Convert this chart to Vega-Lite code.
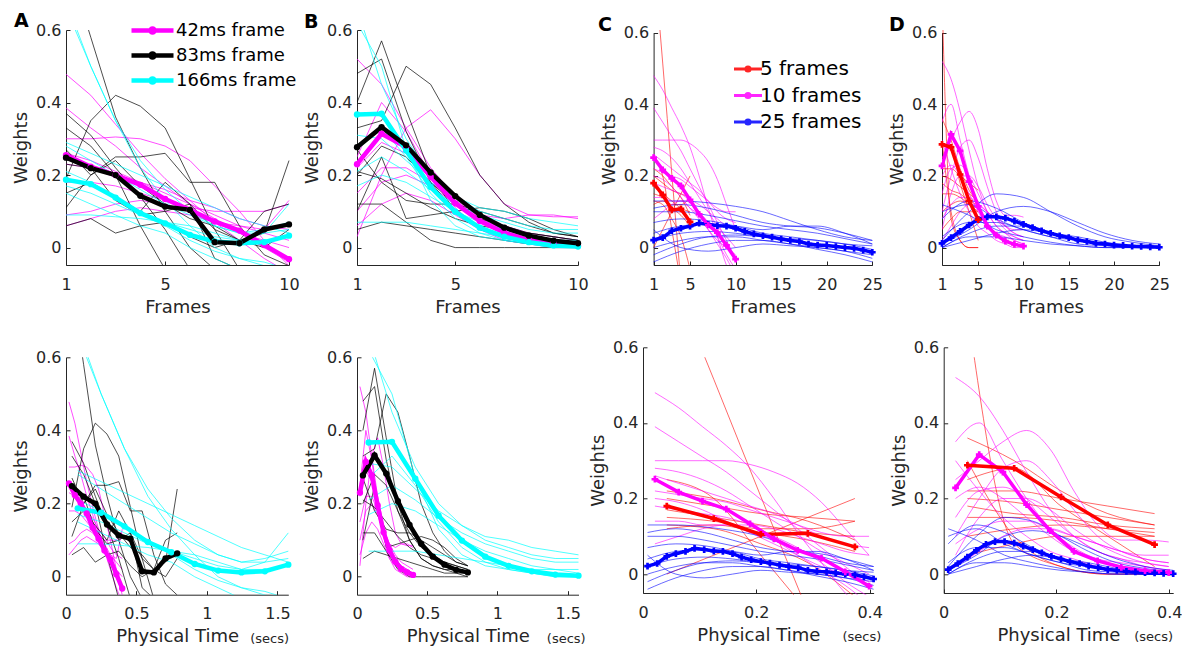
{
"$schema":"https://vega.github.io/schema/vega-lite/v6.json",
"background":"white",
"padding":{"left":12,"top":12,"right":0,"bottom":0},
"config":{
 "font":"DejaVu Sans",
 "view":{"stroke":null},
 "axis":{"domainColor":"#262626","domainWidth":1,"tickColor":"#262626","tickWidth":1,"tickSize":-4,"labelColor":"#262626","labelFont":"DejaVu Sans","labelFontSize":16,"titleFont":"DejaVu Sans","titleFontSize":18,"titleFontWeight":"normal","titleColor":"#262626","grid":false,"labelFlush":false,"labelOverlap":false},
 "axisX":{"labelPadding":15,"titlePadding":6},
 "axisY":{"labelPadding":9,"titlePadding":5},
 "title":{"font":"DejaVu Sans","fontWeight":"bold","fontSize":19,"color":"#000000","anchor":"start","frame":"group"}
},
"datasets":{
"A":[
{"g":"m","s":0,"f":1,"t":0.021,"w":0.255},{"g":"m","s":0,"f":2,"t":0.063,"w":0.223},{"g":"m","s":0,"f":3,"t":0.105,"w":0.2},{"g":"m","s":0,"f":4,"t":0.147,"w":0.173},{"g":"m","s":0,"f":5,"t":0.189,"w":0.134},{"g":"m","s":0,"f":6,"t":0.231,"w":0.104},{"g":"m","s":0,"f":7,"t":0.273,"w":0.072},{"g":"m","s":0,"f":8,"t":0.315,"w":0.047},{"g":"m","s":0,"f":9,"t":0.357,"w":0.007},{"g":"m","s":0,"f":10,"t":0.399,"w":-0.032},
{"g":"c","s":0,"f":1,"t":0.083,"w":0.187},{"g":"c","s":0,"f":2,"t":0.249,"w":0.175},{"g":"c","s":0,"f":3,"t":0.415,"w":0.138},{"g":"c","s":0,"f":4,"t":0.581,"w":0.095},{"g":"c","s":0,"f":5,"t":0.747,"w":0.067},{"g":"c","s":0,"f":6,"t":0.913,"w":0.035},{"g":"c","s":0,"f":7,"t":1.079,"w":0.017},{"g":"c","s":0,"f":8,"t":1.245,"w":0.012},{"g":"c","s":0,"f":9,"t":1.411,"w":0.015},{"g":"c","s":0,"f":10,"t":1.577,"w":0.033},
{"g":"k","s":0,"f":1,"t":0.042,"w":0.248},{"g":"k","s":0,"f":2,"t":0.125,"w":0.219},{"g":"k","s":0,"f":3,"t":0.208,"w":0.2},{"g":"k","s":0,"f":4,"t":0.291,"w":0.143},{"g":"k","s":0,"f":5,"t":0.374,"w":0.113},{"g":"k","s":0,"f":6,"t":0.457,"w":0.104},{"g":"k","s":0,"f":7,"t":0.54,"w":0.015},{"g":"k","s":0,"f":8,"t":0.623,"w":0.012},{"g":"k","s":0,"f":9,"t":0.706,"w":0.05},{"g":"k","s":0,"f":10,"t":0.789,"w":0.064},
{"g":"m","s":1,"f":1,"t":0.021,"w":0.478},{"g":"m","s":1,"f":2,"t":0.063,"w":0.42},{"g":"m","s":1,"f":3,"t":0.105,"w":0.34},{"g":"m","s":1,"f":4,"t":0.147,"w":0.26},{"g":"m","s":1,"f":5,"t":0.189,"w":0.19},{"g":"m","s":1,"f":6,"t":0.231,"w":0.13},{"g":"m","s":1,"f":7,"t":0.273,"w":0.07},{"g":"m","s":1,"f":8,"t":0.315,"w":0.02},{"g":"m","s":1,"f":9,"t":0.357,"w":-0.03},{"g":"m","s":1,"f":10,"t":0.399,"w":-0.07},
{"g":"m","s":2,"f":1,"t":0.021,"w":0.385},{"g":"m","s":2,"f":2,"t":0.063,"w":0.33},{"g":"m","s":2,"f":3,"t":0.105,"w":0.28},{"g":"m","s":2,"f":4,"t":0.147,"w":0.22},{"g":"m","s":2,"f":5,"t":0.189,"w":0.17},{"g":"m","s":2,"f":6,"t":0.231,"w":0.12},{"g":"m","s":2,"f":7,"t":0.273,"w":0.08},{"g":"m","s":2,"f":8,"t":0.315,"w":0.04},{"g":"m","s":2,"f":9,"t":0.357,"w":0.0},{"g":"m","s":2,"f":10,"t":0.399,"w":-0.04},
{"g":"m","s":3,"f":1,"t":0.021,"w":0.3},{"g":"m","s":3,"f":2,"t":0.063,"w":0.3},{"g":"m","s":3,"f":3,"t":0.105,"w":0.305},{"g":"m","s":3,"f":4,"t":0.147,"w":0.3},{"g":"m","s":3,"f":5,"t":0.189,"w":0.28},{"g":"m","s":3,"f":6,"t":0.231,"w":0.24},{"g":"m","s":3,"f":7,"t":0.273,"w":0.17},{"g":"m","s":3,"f":8,"t":0.315,"w":0.1},{"g":"m","s":3,"f":9,"t":0.357,"w":0.02},{"g":"m","s":3,"f":10,"t":0.399,"w":-0.05},
{"g":"m","s":4,"f":1,"t":0.021,"w":0.26},{"g":"m","s":4,"f":2,"t":0.063,"w":0.24},{"g":"m","s":4,"f":3,"t":0.105,"w":0.21},{"g":"m","s":4,"f":4,"t":0.147,"w":0.18},{"g":"m","s":4,"f":5,"t":0.189,"w":0.15},{"g":"m","s":4,"f":6,"t":0.231,"w":0.12},{"g":"m","s":4,"f":7,"t":0.273,"w":0.09},{"g":"m","s":4,"f":8,"t":0.315,"w":0.06},{"g":"m","s":4,"f":9,"t":0.357,"w":0.04},{"g":"m","s":4,"f":10,"t":0.399,"w":0.02},
{"g":"m","s":5,"f":1,"t":0.021,"w":0.23},{"g":"m","s":5,"f":2,"t":0.063,"w":0.22},{"g":"m","s":5,"f":3,"t":0.105,"w":0.2},{"g":"m","s":5,"f":4,"t":0.147,"w":0.18},{"g":"m","s":5,"f":5,"t":0.189,"w":0.16},{"g":"m","s":5,"f":6,"t":0.231,"w":0.13},{"g":"m","s":5,"f":7,"t":0.273,"w":0.11},{"g":"m","s":5,"f":8,"t":0.315,"w":0.08},{"g":"m","s":5,"f":9,"t":0.357,"w":0.06},{"g":"m","s":5,"f":10,"t":0.399,"w":0.05},
{"g":"m","s":6,"f":1,"t":0.021,"w":0.18},{"g":"m","s":6,"f":2,"t":0.063,"w":0.18},{"g":"m","s":6,"f":3,"t":0.105,"w":0.17},{"g":"m","s":6,"f":4,"t":0.147,"w":0.15},{"g":"m","s":6,"f":5,"t":0.189,"w":0.13},{"g":"m","s":6,"f":6,"t":0.231,"w":0.11},{"g":"m","s":6,"f":7,"t":0.273,"w":0.1},{"g":"m","s":6,"f":8,"t":0.315,"w":0.1},{"g":"m","s":6,"f":9,"t":0.357,"w":0.1},{"g":"m","s":6,"f":10,"t":0.399,"w":0.12},
{"g":"m","s":7,"f":1,"t":0.021,"w":0.09},{"g":"m","s":7,"f":2,"t":0.063,"w":0.1},{"g":"m","s":7,"f":3,"t":0.105,"w":0.12},{"g":"m","s":7,"f":4,"t":0.147,"w":0.13},{"g":"m","s":7,"f":5,"t":0.189,"w":0.12},{"g":"m","s":7,"f":6,"t":0.231,"w":0.1},{"g":"m","s":7,"f":7,"t":0.273,"w":0.07},{"g":"m","s":7,"f":8,"t":0.315,"w":0.04},{"g":"m","s":7,"f":9,"t":0.357,"w":0.02},{"g":"m","s":7,"f":10,"t":0.399,"w":0.0},
{"g":"m","s":8,"f":1,"t":0.021,"w":0.06},{"g":"m","s":8,"f":2,"t":0.063,"w":0.08},{"g":"m","s":8,"f":3,"t":0.105,"w":0.1},{"g":"m","s":8,"f":4,"t":0.147,"w":0.11},{"g":"m","s":8,"f":5,"t":0.189,"w":0.1},{"g":"m","s":8,"f":6,"t":0.231,"w":0.09},{"g":"m","s":8,"f":7,"t":0.273,"w":0.07},{"g":"m","s":8,"f":8,"t":0.315,"w":0.06},{"g":"m","s":8,"f":9,"t":0.357,"w":0.05},{"g":"m","s":8,"f":10,"t":0.399,"w":0.13},
{"g":"k","s":11,"f":1,"t":0.042,"w":0.8},{"g":"k","s":11,"f":2,"t":0.125,"w":0.58},{"g":"k","s":11,"f":3,"t":0.208,"w":0.36},{"g":"k","s":11,"f":4,"t":0.291,"w":0.22},{"g":"k","s":11,"f":5,"t":0.374,"w":0.1},{"g":"k","s":11,"f":6,"t":0.457,"w":0.0},{"g":"k","s":11,"f":7,"t":0.54,"w":-0.06},
{"g":"k","s":12,"f":1,"t":0.042,"w":0.37},{"g":"k","s":12,"f":2,"t":0.125,"w":0.31},{"g":"k","s":12,"f":3,"t":0.208,"w":0.22},{"g":"k","s":12,"f":4,"t":0.291,"w":0.14},{"g":"k","s":12,"f":5,"t":0.374,"w":0.05},{"g":"k","s":12,"f":6,"t":0.457,"w":-0.06},
{"g":"k","s":13,"f":1,"t":0.042,"w":0.19},{"g":"k","s":13,"f":2,"t":0.125,"w":0.35},{"g":"k","s":13,"f":3,"t":0.208,"w":0.42},{"g":"k","s":13,"f":4,"t":0.291,"w":0.39},{"g":"k","s":13,"f":5,"t":0.374,"w":0.33},{"g":"k","s":13,"f":6,"t":0.457,"w":0.19},{"g":"k","s":13,"f":7,"t":0.54,"w":0.05},{"g":"k","s":13,"f":8,"t":0.623,"w":-0.06},
{"g":"k","s":14,"f":1,"t":0.042,"w":0.11},{"g":"k","s":14,"f":2,"t":0.125,"w":0.2},{"g":"k","s":14,"f":3,"t":0.208,"w":0.25},{"g":"k","s":14,"f":4,"t":0.291,"w":0.25},{"g":"k","s":14,"f":5,"t":0.374,"w":0.26},{"g":"k","s":14,"f":6,"t":0.457,"w":0.18},{"g":"k","s":14,"f":7,"t":0.54,"w":0.18},{"g":"k","s":14,"f":8,"t":0.623,"w":0.06},{"g":"k","s":14,"f":9,"t":0.706,"w":-0.02},{"g":"k","s":14,"f":10,"t":0.789,"w":-0.05},
{"g":"k","s":15,"f":1,"t":0.042,"w":0.27},{"g":"k","s":15,"f":2,"t":0.125,"w":0.2},{"g":"k","s":15,"f":3,"t":0.208,"w":0.24},{"g":"k","s":15,"f":4,"t":0.291,"w":0.17},{"g":"k","s":15,"f":5,"t":0.374,"w":0.12},{"g":"k","s":15,"f":6,"t":0.457,"w":0.08},{"g":"k","s":15,"f":7,"t":0.54,"w":0.06},{"g":"k","s":15,"f":8,"t":0.623,"w":0.02},{"g":"k","s":15,"f":9,"t":0.706,"w":0.04},{"g":"k","s":15,"f":10,"t":0.789,"w":0.24},
{"g":"k","s":16,"f":1,"t":0.042,"w":0.06},{"g":"k","s":16,"f":2,"t":0.125,"w":0.08},{"g":"k","s":16,"f":3,"t":0.208,"w":0.04},{"g":"k","s":16,"f":4,"t":0.291,"w":0.06},{"g":"k","s":16,"f":5,"t":0.374,"w":0.07},{"g":"k","s":16,"f":6,"t":0.457,"w":0.03},{"g":"k","s":16,"f":7,"t":0.54,"w":0.0},{"g":"k","s":16,"f":8,"t":0.623,"w":0.02},{"g":"k","s":16,"f":9,"t":0.706,"w":0.1},{"g":"k","s":16,"f":10,"t":0.789,"w":0.12},
{"g":"k","s":17,"f":1,"t":0.042,"w":0.33},{"g":"k","s":17,"f":2,"t":0.125,"w":0.28},{"g":"k","s":17,"f":3,"t":0.208,"w":0.2},{"g":"k","s":17,"f":4,"t":0.291,"w":0.06},{"g":"k","s":17,"f":5,"t":0.374,"w":-0.06},
{"g":"k","s":18,"f":1,"t":0.042,"w":0.23},{"g":"k","s":18,"f":2,"t":0.125,"w":0.22},{"g":"k","s":18,"f":3,"t":0.208,"w":0.13},{"g":"k","s":18,"f":4,"t":0.291,"w":0.09},{"g":"k","s":18,"f":5,"t":0.374,"w":0.1},{"g":"k","s":18,"f":6,"t":0.457,"w":0.12},{"g":"k","s":18,"f":7,"t":0.54,"w":-0.03},{"g":"k","s":18,"f":8,"t":0.623,"w":-0.06},
{"g":"k","s":19,"f":1,"t":0.042,"w":0.15},{"g":"k","s":19,"f":2,"t":0.125,"w":0.18},{"g":"k","s":19,"f":3,"t":0.208,"w":0.14},{"g":"k","s":19,"f":4,"t":0.291,"w":0.1},{"g":"k","s":19,"f":5,"t":0.374,"w":0.18},{"g":"k","s":19,"f":6,"t":0.457,"w":0.12},{"g":"k","s":19,"f":7,"t":0.54,"w":0.05},{"g":"k","s":19,"f":8,"t":0.623,"w":0.02},{"g":"k","s":19,"f":9,"t":0.706,"w":0.0},{"g":"k","s":19,"f":10,"t":0.789,"w":0.05},
{"g":"c","s":21,"f":1,"t":0.083,"w":0.68},{"g":"c","s":21,"f":2,"t":0.249,"w":0.5},{"g":"c","s":21,"f":3,"t":0.415,"w":0.35},{"g":"c","s":21,"f":4,"t":0.581,"w":0.22},{"g":"c","s":21,"f":5,"t":0.747,"w":0.13},{"g":"c","s":21,"f":6,"t":0.913,"w":0.06},{"g":"c","s":21,"f":7,"t":1.079,"w":0.0},{"g":"c","s":21,"f":8,"t":1.245,"w":-0.03},{"g":"c","s":21,"f":9,"t":1.411,"w":-0.05},{"g":"c","s":21,"f":10,"t":1.577,"w":-0.06},
{"g":"c","s":22,"f":1,"t":0.083,"w":0.66},{"g":"c","s":22,"f":2,"t":0.249,"w":0.5},{"g":"c","s":22,"f":3,"t":0.415,"w":0.35},{"g":"c","s":22,"f":4,"t":0.581,"w":0.24},{"g":"c","s":22,"f":5,"t":0.747,"w":0.16},{"g":"c","s":22,"f":6,"t":0.913,"w":0.1},{"g":"c","s":22,"f":7,"t":1.079,"w":0.06},{"g":"c","s":22,"f":8,"t":1.245,"w":0.04},{"g":"c","s":22,"f":9,"t":1.411,"w":0.04},{"g":"c","s":22,"f":10,"t":1.577,"w":0.05},
{"g":"c","s":23,"f":1,"t":0.083,"w":0.29},{"g":"c","s":23,"f":2,"t":0.249,"w":0.26},{"g":"c","s":23,"f":3,"t":0.415,"w":0.23},{"g":"c","s":23,"f":4,"t":0.581,"w":0.2},{"g":"c","s":23,"f":5,"t":0.747,"w":0.17},{"g":"c","s":23,"f":6,"t":0.913,"w":0.14},{"g":"c","s":23,"f":7,"t":1.079,"w":0.11},{"g":"c","s":23,"f":8,"t":1.245,"w":0.08},{"g":"c","s":23,"f":9,"t":1.411,"w":0.06},{"g":"c","s":23,"f":10,"t":1.577,"w":0.04},
{"g":"c","s":24,"f":1,"t":0.083,"w":0.28},{"g":"c","s":24,"f":2,"t":0.249,"w":0.24},{"g":"c","s":24,"f":3,"t":0.415,"w":0.2},{"g":"c","s":24,"f":4,"t":0.581,"w":0.16},{"g":"c","s":24,"f":5,"t":0.747,"w":0.12},{"g":"c","s":24,"f":6,"t":0.913,"w":0.09},{"g":"c","s":24,"f":7,"t":1.079,"w":0.06},{"g":"c","s":24,"f":8,"t":1.245,"w":0.04},{"g":"c","s":24,"f":9,"t":1.411,"w":0.05},{"g":"c","s":24,"f":10,"t":1.577,"w":0.07},
{"g":"c","s":25,"f":1,"t":0.083,"w":0.21},{"g":"c","s":25,"f":2,"t":0.249,"w":0.18},{"g":"c","s":25,"f":3,"t":0.415,"w":0.14},{"g":"c","s":25,"f":4,"t":0.581,"w":0.1},{"g":"c","s":25,"f":5,"t":0.747,"w":0.06},{"g":"c","s":25,"f":6,"t":0.913,"w":0.02},{"g":"c","s":25,"f":7,"t":1.079,"w":-0.01},{"g":"c","s":25,"f":8,"t":1.245,"w":-0.03},{"g":"c","s":25,"f":9,"t":1.411,"w":-0.04},{"g":"c","s":25,"f":10,"t":1.577,"w":-0.06},
{"g":"c","s":26,"f":1,"t":0.083,"w":0.17},{"g":"c","s":26,"f":2,"t":0.249,"w":0.15},{"g":"c","s":26,"f":3,"t":0.415,"w":0.12},{"g":"c","s":26,"f":4,"t":0.581,"w":0.09},{"g":"c","s":26,"f":5,"t":0.747,"w":0.07},{"g":"c","s":26,"f":6,"t":0.913,"w":0.05},{"g":"c","s":26,"f":7,"t":1.079,"w":0.03},{"g":"c","s":26,"f":8,"t":1.245,"w":0.02},{"g":"c","s":26,"f":9,"t":1.411,"w":0.04},{"g":"c","s":26,"f":10,"t":1.577,"w":0.12},
{"g":"c","s":27,"f":1,"t":0.083,"w":0.09},{"g":"c","s":27,"f":2,"t":0.249,"w":0.09},{"g":"c","s":27,"f":3,"t":0.415,"w":0.085},{"g":"c","s":27,"f":4,"t":0.581,"w":0.08},{"g":"c","s":27,"f":5,"t":0.747,"w":0.07},{"g":"c","s":27,"f":6,"t":0.913,"w":0.06},{"g":"c","s":27,"f":7,"t":1.079,"w":0.04},{"g":"c","s":27,"f":8,"t":1.245,"w":0.02},{"g":"c","s":27,"f":9,"t":1.411,"w":0.02},{"g":"c","s":27,"f":10,"t":1.577,"w":0.03},
{"g":"c","s":28,"f":1,"t":0.083,"w":0.15},{"g":"c","s":28,"f":2,"t":0.249,"w":0.12},{"g":"c","s":28,"f":3,"t":0.415,"w":0.09},{"g":"c","s":28,"f":4,"t":0.581,"w":0.06},{"g":"c","s":28,"f":5,"t":0.747,"w":0.04},{"g":"c","s":28,"f":6,"t":0.913,"w":0.0},{"g":"c","s":28,"f":7,"t":1.079,"w":-0.03},{"g":"c","s":28,"f":8,"t":1.245,"w":-0.06}
],
"B":[
{"g":"m","s":0,"f":1,"t":0.021,"w":0.23},{"g":"m","s":0,"f":2,"t":0.063,"w":0.314},{"g":"m","s":0,"f":3,"t":0.105,"w":0.277},{"g":"m","s":0,"f":4,"t":0.147,"w":0.195},{"g":"m","s":0,"f":5,"t":0.189,"w":0.122},{"g":"m","s":0,"f":6,"t":0.231,"w":0.073},{"g":"m","s":0,"f":7,"t":0.273,"w":0.041},{"g":"m","s":0,"f":8,"t":0.315,"w":0.021},{"g":"m","s":0,"f":9,"t":0.357,"w":0.012},{"g":"m","s":0,"f":10,"t":0.399,"w":0.005},
{"g":"c","s":0,"f":1,"t":0.083,"w":0.367},{"g":"c","s":0,"f":2,"t":0.249,"w":0.369},{"g":"c","s":0,"f":3,"t":0.415,"w":0.268},{"g":"c","s":0,"f":4,"t":0.581,"w":0.167},{"g":"c","s":0,"f":5,"t":0.747,"w":0.099},{"g":"c","s":0,"f":6,"t":0.913,"w":0.055},{"g":"c","s":0,"f":7,"t":1.079,"w":0.03},{"g":"c","s":0,"f":8,"t":1.245,"w":0.015},{"g":"c","s":0,"f":9,"t":1.411,"w":0.006},{"g":"c","s":0,"f":10,"t":1.577,"w":0.003},
{"g":"k","s":0,"f":1,"t":0.042,"w":0.277},{"g":"k","s":0,"f":2,"t":0.125,"w":0.332},{"g":"k","s":0,"f":3,"t":0.208,"w":0.282},{"g":"k","s":0,"f":4,"t":0.291,"w":0.207},{"g":"k","s":0,"f":5,"t":0.374,"w":0.142},{"g":"k","s":0,"f":6,"t":0.457,"w":0.09},{"g":"k","s":0,"f":7,"t":0.54,"w":0.055},{"g":"k","s":0,"f":8,"t":0.623,"w":0.033},{"g":"k","s":0,"f":9,"t":0.706,"w":0.019},{"g":"k","s":0,"f":10,"t":0.789,"w":0.012},
{"g":"m","s":1,"f":1,"t":0.021,"w":0.52},{"g":"m","s":1,"f":2,"t":0.063,"w":0.45},{"g":"m","s":1,"f":3,"t":0.105,"w":0.33},{"g":"m","s":1,"f":4,"t":0.147,"w":0.22},{"g":"m","s":1,"f":5,"t":0.189,"w":0.14},{"g":"m","s":1,"f":6,"t":0.231,"w":0.08},{"g":"m","s":1,"f":7,"t":0.273,"w":0.05},{"g":"m","s":1,"f":8,"t":0.315,"w":0.03},{"g":"m","s":1,"f":9,"t":0.357,"w":0.02},{"g":"m","s":1,"f":10,"t":0.399,"w":0.01},
{"g":"m","s":2,"f":1,"t":0.021,"w":0.03},{"g":"m","s":2,"f":2,"t":0.063,"w":0.2},{"g":"m","s":2,"f":3,"t":0.105,"w":0.33},{"g":"m","s":2,"f":4,"t":0.147,"w":0.38},{"g":"m","s":2,"f":5,"t":0.189,"w":0.3},{"g":"m","s":2,"f":6,"t":0.231,"w":0.2},{"g":"m","s":2,"f":7,"t":0.273,"w":0.12},{"g":"m","s":2,"f":8,"t":0.315,"w":0.09},{"g":"m","s":2,"f":9,"t":0.357,"w":0.09},{"g":"m","s":2,"f":10,"t":0.399,"w":0.08},
{"g":"m","s":3,"f":1,"t":0.021,"w":0.22},{"g":"m","s":3,"f":2,"t":0.063,"w":0.29},{"g":"m","s":3,"f":3,"t":0.105,"w":0.26},{"g":"m","s":3,"f":4,"t":0.147,"w":0.19},{"g":"m","s":3,"f":5,"t":0.189,"w":0.13},{"g":"m","s":3,"f":6,"t":0.231,"w":0.08},{"g":"m","s":3,"f":7,"t":0.273,"w":0.05},{"g":"m","s":3,"f":8,"t":0.315,"w":0.03},{"g":"m","s":3,"f":9,"t":0.357,"w":0.02},{"g":"m","s":3,"f":10,"t":0.399,"w":0.01},
{"g":"m","s":4,"f":1,"t":0.021,"w":0.15},{"g":"m","s":4,"f":2,"t":0.063,"w":0.22},{"g":"m","s":4,"f":3,"t":0.105,"w":0.22},{"g":"m","s":4,"f":4,"t":0.147,"w":0.18},{"g":"m","s":4,"f":5,"t":0.189,"w":0.13},{"g":"m","s":4,"f":6,"t":0.231,"w":0.09},{"g":"m","s":4,"f":7,"t":0.273,"w":0.06},{"g":"m","s":4,"f":8,"t":0.315,"w":0.04},{"g":"m","s":4,"f":9,"t":0.357,"w":0.03},{"g":"m","s":4,"f":10,"t":0.399,"w":0.02},
{"g":"m","s":5,"f":1,"t":0.021,"w":0.1},{"g":"m","s":5,"f":2,"t":0.063,"w":0.18},{"g":"m","s":5,"f":3,"t":0.105,"w":0.2},{"g":"m","s":5,"f":4,"t":0.147,"w":0.17},{"g":"m","s":5,"f":5,"t":0.189,"w":0.12},{"g":"m","s":5,"f":6,"t":0.231,"w":0.09},{"g":"m","s":5,"f":7,"t":0.273,"w":0.08},{"g":"m","s":5,"f":8,"t":0.315,"w":0.09},{"g":"m","s":5,"f":9,"t":0.357,"w":0.085},{"g":"m","s":5,"f":10,"t":0.399,"w":0.085},
{"g":"m","s":6,"f":1,"t":0.021,"w":0.06},{"g":"m","s":6,"f":2,"t":0.063,"w":0.12},{"g":"m","s":6,"f":3,"t":0.105,"w":0.15},{"g":"m","s":6,"f":4,"t":0.147,"w":0.13},{"g":"m","s":6,"f":5,"t":0.189,"w":0.09},{"g":"m","s":6,"f":6,"t":0.231,"w":0.05},{"g":"m","s":6,"f":7,"t":0.273,"w":0.03},{"g":"m","s":6,"f":8,"t":0.315,"w":0.02},{"g":"m","s":6,"f":9,"t":0.357,"w":0.01},{"g":"m","s":6,"f":10,"t":0.399,"w":0.0},
{"g":"m","s":7,"f":1,"t":0.021,"w":0.25},{"g":"m","s":7,"f":2,"t":0.063,"w":0.4},{"g":"m","s":7,"f":3,"t":0.105,"w":0.32},{"g":"m","s":7,"f":4,"t":0.147,"w":0.2},{"g":"m","s":7,"f":5,"t":0.189,"w":0.11},{"g":"m","s":7,"f":6,"t":0.231,"w":0.05},{"g":"m","s":7,"f":7,"t":0.273,"w":0.02},{"g":"m","s":7,"f":8,"t":0.315,"w":0.01},{"g":"m","s":7,"f":9,"t":0.357,"w":0.0},{"g":"m","s":7,"f":10,"t":0.399,"w":0.0},
{"g":"k","s":11,"f":1,"t":0.042,"w":0.4},{"g":"k","s":11,"f":2,"t":0.125,"w":0.57},{"g":"k","s":11,"f":3,"t":0.208,"w":0.38},{"g":"k","s":11,"f":4,"t":0.291,"w":0.2},{"g":"k","s":11,"f":5,"t":0.374,"w":0.1},{"g":"k","s":11,"f":6,"t":0.457,"w":0.05},{"g":"k","s":11,"f":7,"t":0.54,"w":0.03},{"g":"k","s":11,"f":8,"t":0.623,"w":0.02},{"g":"k","s":11,"f":9,"t":0.706,"w":0.01},{"g":"k","s":11,"f":10,"t":0.789,"w":0.01},
{"g":"k","s":12,"f":1,"t":0.042,"w":0.48},{"g":"k","s":12,"f":2,"t":0.125,"w":0.52},{"g":"k","s":12,"f":3,"t":0.208,"w":0.32},{"g":"k","s":12,"f":4,"t":0.291,"w":0.18},{"g":"k","s":12,"f":5,"t":0.374,"w":0.1},{"g":"k","s":12,"f":6,"t":0.457,"w":0.05},{"g":"k","s":12,"f":7,"t":0.54,"w":0.03},{"g":"k","s":12,"f":8,"t":0.623,"w":0.02},{"g":"k","s":12,"f":9,"t":0.706,"w":0.02},{"g":"k","s":12,"f":10,"t":0.789,"w":0.01},
{"g":"k","s":13,"f":1,"t":0.042,"w":0.33},{"g":"k","s":13,"f":2,"t":0.125,"w":0.35},{"g":"k","s":13,"f":3,"t":0.208,"w":0.5},{"g":"k","s":13,"f":4,"t":0.291,"w":0.45},{"g":"k","s":13,"f":5,"t":0.374,"w":0.33},{"g":"k","s":13,"f":6,"t":0.457,"w":0.2},{"g":"k","s":13,"f":7,"t":0.54,"w":0.12},{"g":"k","s":13,"f":8,"t":0.623,"w":0.07},{"g":"k","s":13,"f":9,"t":0.706,"w":0.04},{"g":"k","s":13,"f":10,"t":0.789,"w":0.03},
{"g":"k","s":14,"f":1,"t":0.042,"w":0.2},{"g":"k","s":14,"f":2,"t":0.125,"w":0.28},{"g":"k","s":14,"f":3,"t":0.208,"w":0.25},{"g":"k","s":14,"f":4,"t":0.291,"w":0.18},{"g":"k","s":14,"f":5,"t":0.374,"w":0.12},{"g":"k","s":14,"f":6,"t":0.457,"w":0.08},{"g":"k","s":14,"f":7,"t":0.54,"w":0.06},{"g":"k","s":14,"f":8,"t":0.623,"w":0.04},{"g":"k","s":14,"f":9,"t":0.706,"w":0.03},{"g":"k","s":14,"f":10,"t":0.789,"w":0.02},
{"g":"k","s":15,"f":1,"t":0.042,"w":0.12},{"g":"k","s":15,"f":2,"t":0.125,"w":0.12},{"g":"k","s":15,"f":3,"t":0.208,"w":0.07},{"g":"k","s":15,"f":4,"t":0.291,"w":0.02},{"g":"k","s":15,"f":5,"t":0.374,"w":0.0},{"g":"k","s":15,"f":6,"t":0.457,"w":0.0},{"g":"k","s":15,"f":7,"t":0.54,"w":0.0},{"g":"k","s":15,"f":8,"t":0.623,"w":0.0},{"g":"k","s":15,"f":9,"t":0.706,"w":0.0},{"g":"k","s":15,"f":10,"t":0.789,"w":0.0},
{"g":"k","s":16,"f":1,"t":0.042,"w":0.05},{"g":"k","s":16,"f":2,"t":0.125,"w":0.07},{"g":"k","s":16,"f":3,"t":0.208,"w":0.06},{"g":"k","s":16,"f":4,"t":0.291,"w":0.05},{"g":"k","s":16,"f":5,"t":0.374,"w":0.04},{"g":"k","s":16,"f":6,"t":0.457,"w":0.03},{"g":"k","s":16,"f":7,"t":0.54,"w":0.02},{"g":"k","s":16,"f":8,"t":0.623,"w":0.01},{"g":"k","s":16,"f":9,"t":0.706,"w":0.01},{"g":"k","s":16,"f":10,"t":0.789,"w":0.0},
{"g":"k","s":17,"f":1,"t":0.042,"w":0.27},{"g":"k","s":17,"f":2,"t":0.125,"w":0.18},{"g":"k","s":17,"f":3,"t":0.208,"w":0.13},{"g":"k","s":17,"f":4,"t":0.291,"w":0.12},{"g":"k","s":17,"f":5,"t":0.374,"w":0.12},{"g":"k","s":17,"f":6,"t":0.457,"w":0.1},{"g":"k","s":17,"f":7,"t":0.54,"w":0.08},{"g":"k","s":17,"f":8,"t":0.623,"w":0.06},{"g":"k","s":17,"f":9,"t":0.706,"w":0.04},{"g":"k","s":17,"f":10,"t":0.789,"w":0.03},
{"g":"k","s":18,"f":1,"t":0.042,"w":0.1},{"g":"k","s":18,"f":2,"t":0.125,"w":0.25},{"g":"k","s":18,"f":3,"t":0.208,"w":0.08},{"g":"k","s":18,"f":4,"t":0.291,"w":0.09},{"g":"k","s":18,"f":5,"t":0.374,"w":0.1},{"g":"k","s":18,"f":6,"t":0.457,"w":0.11},{"g":"k","s":18,"f":7,"t":0.54,"w":0.1},{"g":"k","s":18,"f":8,"t":0.623,"w":0.08},{"g":"k","s":18,"f":9,"t":0.706,"w":0.05},{"g":"k","s":18,"f":10,"t":0.789,"w":0.03},
{"g":"k","s":19,"f":1,"t":0.042,"w":0.21},{"g":"k","s":19,"f":2,"t":0.125,"w":0.19},{"g":"k","s":19,"f":3,"t":0.208,"w":0.15},{"g":"k","s":19,"f":4,"t":0.291,"w":0.11},{"g":"k","s":19,"f":5,"t":0.374,"w":0.08},{"g":"k","s":19,"f":6,"t":0.457,"w":0.06},{"g":"k","s":19,"f":7,"t":0.54,"w":0.05},{"g":"k","s":19,"f":8,"t":0.623,"w":0.04},{"g":"k","s":19,"f":9,"t":0.706,"w":0.03},{"g":"k","s":19,"f":10,"t":0.789,"w":0.02},
{"g":"c","s":21,"f":1,"t":0.083,"w":0.62},{"g":"c","s":21,"f":2,"t":0.249,"w":0.5},{"g":"c","s":21,"f":3,"t":0.415,"w":0.27},{"g":"c","s":21,"f":4,"t":0.581,"w":0.13},{"g":"c","s":21,"f":5,"t":0.747,"w":0.06},{"g":"c","s":21,"f":6,"t":0.913,"w":0.03},{"g":"c","s":21,"f":7,"t":1.079,"w":0.02},{"g":"c","s":21,"f":8,"t":1.245,"w":0.01},{"g":"c","s":21,"f":9,"t":1.411,"w":0.0},{"g":"c","s":21,"f":10,"t":1.577,"w":0.0},
{"g":"c","s":22,"f":1,"t":0.083,"w":0.66},{"g":"c","s":22,"f":2,"t":0.249,"w":0.45},{"g":"c","s":22,"f":3,"t":0.415,"w":0.3},{"g":"c","s":22,"f":4,"t":0.581,"w":0.2},{"g":"c","s":22,"f":5,"t":0.747,"w":0.14},{"g":"c","s":22,"f":6,"t":0.913,"w":0.1},{"g":"c","s":22,"f":7,"t":1.079,"w":0.08},{"g":"c","s":22,"f":8,"t":1.245,"w":0.06},{"g":"c","s":22,"f":9,"t":1.411,"w":0.05},{"g":"c","s":22,"f":10,"t":1.577,"w":0.05},
{"g":"c","s":23,"f":1,"t":0.083,"w":0.31},{"g":"c","s":23,"f":2,"t":0.249,"w":0.3},{"g":"c","s":23,"f":3,"t":0.415,"w":0.24},{"g":"c","s":23,"f":4,"t":0.581,"w":0.18},{"g":"c","s":23,"f":5,"t":0.747,"w":0.14},{"g":"c","s":23,"f":6,"t":0.913,"w":0.11},{"g":"c","s":23,"f":7,"t":1.079,"w":0.1},{"g":"c","s":23,"f":8,"t":1.245,"w":0.08},{"g":"c","s":23,"f":9,"t":1.411,"w":0.07},{"g":"c","s":23,"f":10,"t":1.577,"w":0.06},
{"g":"c","s":24,"f":1,"t":0.083,"w":0.21},{"g":"c","s":24,"f":2,"t":0.249,"w":0.25},{"g":"c","s":24,"f":3,"t":0.415,"w":0.21},{"g":"c","s":24,"f":4,"t":0.581,"w":0.16},{"g":"c","s":24,"f":5,"t":0.747,"w":0.12},{"g":"c","s":24,"f":6,"t":0.913,"w":0.09},{"g":"c","s":24,"f":7,"t":1.079,"w":0.07},{"g":"c","s":24,"f":8,"t":1.245,"w":0.05},{"g":"c","s":24,"f":9,"t":1.411,"w":0.04},{"g":"c","s":24,"f":10,"t":1.577,"w":0.04},
{"g":"c","s":25,"f":1,"t":0.083,"w":0.07},{"g":"c","s":25,"f":2,"t":0.249,"w":0.07},{"g":"c","s":25,"f":3,"t":0.415,"w":0.07},{"g":"c","s":25,"f":4,"t":0.581,"w":0.06},{"g":"c","s":25,"f":5,"t":0.747,"w":0.05},{"g":"c","s":25,"f":6,"t":0.913,"w":0.04},{"g":"c","s":25,"f":7,"t":1.079,"w":0.03},{"g":"c","s":25,"f":8,"t":1.245,"w":0.02},{"g":"c","s":25,"f":9,"t":1.411,"w":0.02},{"g":"c","s":25,"f":10,"t":1.577,"w":0.02},
{"g":"c","s":26,"f":1,"t":0.083,"w":0.17},{"g":"c","s":26,"f":2,"t":0.249,"w":0.2},{"g":"c","s":26,"f":3,"t":0.415,"w":0.18},{"g":"c","s":26,"f":4,"t":0.581,"w":0.14},{"g":"c","s":26,"f":5,"t":0.747,"w":0.1},{"g":"c","s":26,"f":6,"t":0.913,"w":0.07},{"g":"c","s":26,"f":7,"t":1.079,"w":0.05},{"g":"c","s":26,"f":8,"t":1.245,"w":0.03},{"g":"c","s":26,"f":9,"t":1.411,"w":0.02},{"g":"c","s":26,"f":10,"t":1.577,"w":0.01},
{"g":"c","s":27,"f":1,"t":0.083,"w":0.27},{"g":"c","s":27,"f":2,"t":0.249,"w":0.33},{"g":"c","s":27,"f":3,"t":0.415,"w":0.25},{"g":"c","s":27,"f":4,"t":0.581,"w":0.15},{"g":"c","s":27,"f":5,"t":0.747,"w":0.08},{"g":"c","s":27,"f":6,"t":0.913,"w":0.04},{"g":"c","s":27,"f":7,"t":1.079,"w":0.02},{"g":"c","s":27,"f":8,"t":1.245,"w":0.01},{"g":"c","s":27,"f":9,"t":1.411,"w":0.0},{"g":"c","s":27,"f":10,"t":1.577,"w":0.0}
],
"C":[
{"g":"b","s":0,"f":1,"t":0.008,"w":0.021},{"g":"b","s":0,"f":2,"t":0.025,"w":0.028},{"g":"b","s":0,"f":3,"t":0.042,"w":0.047},{"g":"b","s":0,"f":4,"t":0.058,"w":0.054},{"g":"b","s":0,"f":5,"t":0.075,"w":0.06},{"g":"b","s":0,"f":6,"t":0.091,"w":0.068},{"g":"b","s":0,"f":7,"t":0.108,"w":0.065},{"g":"b","s":0,"f":8,"t":0.125,"w":0.061},{"g":"b","s":0,"f":9,"t":0.141,"w":0.06},{"g":"b","s":0,"f":10,"t":0.158,"w":0.054},{"g":"b","s":0,"f":11,"t":0.174,"w":0.045},{"g":"b","s":0,"f":12,"t":0.191,"w":0.038},{"g":"b","s":0,"f":13,"t":0.208,"w":0.033},{"g":"b","s":0,"f":14,"t":0.224,"w":0.029},{"g":"b","s":0,"f":15,"t":0.241,"w":0.024},{"g":"b","s":0,"f":16,"t":0.257,"w":0.02},{"g":"b","s":0,"f":17,"t":0.274,"w":0.017},{"g":"b","s":0,"f":18,"t":0.291,"w":0.01},{"g":"b","s":0,"f":19,"t":0.307,"w":0.007},{"g":"b","s":0,"f":20,"t":0.324,"w":0.006},{"g":"b","s":0,"f":21,"t":0.34,"w":0.003},{"g":"b","s":0,"f":22,"t":0.357,"w":0.0},{"g":"b","s":0,"f":23,"t":0.374,"w":-0.002},{"g":"b","s":0,"f":24,"t":0.39,"w":-0.007},{"g":"b","s":0,"f":25,"t":0.407,"w":-0.013},
{"g":"r","s":0,"f":1,"t":0.042,"w":0.18},{"g":"r","s":0,"f":2,"t":0.125,"w":0.147},{"g":"r","s":0,"f":3,"t":0.208,"w":0.105},{"g":"r","s":0,"f":4,"t":0.291,"w":0.108},{"g":"r","s":0,"f":5,"t":0.374,"w":0.072},
{"g":"m","s":0,"f":1,"t":0.021,"w":0.251},{"g":"m","s":0,"f":2,"t":0.063,"w":0.217},{"g":"m","s":0,"f":3,"t":0.105,"w":0.193},{"g":"m","s":0,"f":4,"t":0.147,"w":0.172},{"g":"m","s":0,"f":5,"t":0.189,"w":0.133},{"g":"m","s":0,"f":6,"t":0.231,"w":0.093},{"g":"m","s":0,"f":7,"t":0.273,"w":0.063},{"g":"m","s":0,"f":8,"t":0.315,"w":0.042},{"g":"m","s":0,"f":9,"t":0.357,"w":0.006},{"g":"m","s":0,"f":10,"t":0.399,"w":-0.032},
{"g":"r","s":1,"f":1,"t":0.042,"w":0.82},{"g":"r","s":1,"f":2,"t":0.125,"w":0.515},{"g":"r","s":1,"f":3,"t":0.208,"w":0.205},{"g":"r","s":1,"f":4,"t":0.291,"w":-0.1},
{"g":"r","s":2,"f":1,"t":0.042,"w":0.2},{"g":"r","s":2,"f":2,"t":0.125,"w":0.18},{"g":"r","s":2,"f":3,"t":0.208,"w":0.16},{"g":"r","s":2,"f":4,"t":0.291,"w":0.15},{"g":"r","s":2,"f":5,"t":0.374,"w":0.14},
{"g":"r","s":3,"f":1,"t":0.042,"w":0.17},{"g":"r","s":3,"f":2,"t":0.125,"w":0.15},{"g":"r","s":3,"f":3,"t":0.208,"w":0.13},{"g":"r","s":3,"f":4,"t":0.291,"w":0.11},{"g":"r","s":3,"f":5,"t":0.374,"w":0.1},
{"g":"r","s":4,"f":1,"t":0.042,"w":0.0},{"g":"r","s":4,"f":2,"t":0.125,"w":0.05},{"g":"r","s":4,"f":3,"t":0.208,"w":0.1},{"g":"r","s":4,"f":4,"t":0.291,"w":0.15},{"g":"r","s":4,"f":5,"t":0.374,"w":0.2},
{"g":"r","s":5,"f":1,"t":0.042,"w":0.22},{"g":"r","s":5,"f":2,"t":0.125,"w":0.2},{"g":"r","s":5,"f":3,"t":0.208,"w":0.17},{"g":"r","s":5,"f":4,"t":0.291,"w":0.14},{"g":"r","s":5,"f":5,"t":0.374,"w":0.09},
{"g":"r","s":6,"f":1,"t":0.042,"w":0.15},{"g":"r","s":6,"f":2,"t":0.125,"w":0.14},{"g":"r","s":6,"f":3,"t":0.208,"w":0.12},{"g":"r","s":6,"f":4,"t":0.291,"w":0.12},{"g":"r","s":6,"f":5,"t":0.374,"w":0.14},
{"g":"r","s":7,"f":1,"t":0.042,"w":0.12},{"g":"r","s":7,"f":2,"t":0.125,"w":0.13},{"g":"r","s":7,"f":3,"t":0.208,"w":0.11},{"g":"r","s":7,"f":4,"t":0.291,"w":0.09},{"g":"r","s":7,"f":5,"t":0.374,"w":0.06},
{"g":"r","s":8,"f":1,"t":0.042,"w":0.13},{"g":"r","s":8,"f":2,"t":0.125,"w":0.12},{"g":"r","s":8,"f":3,"t":0.208,"w":0.08},{"g":"r","s":8,"f":4,"t":0.291,"w":0.03},{"g":"r","s":8,"f":5,"t":0.374,"w":-0.06},
{"g":"r","s":9,"f":1,"t":0.042,"w":0.25},{"g":"r","s":9,"f":2,"t":0.125,"w":0.2},{"g":"r","s":9,"f":3,"t":0.208,"w":0.05},{"g":"r","s":9,"f":4,"t":0.291,"w":-0.1},
{"g":"m","s":11,"f":1,"t":0.021,"w":0.48},{"g":"m","s":11,"f":2,"t":0.063,"w":0.44},{"g":"m","s":11,"f":3,"t":0.105,"w":0.39},{"g":"m","s":11,"f":4,"t":0.147,"w":0.34},{"g":"m","s":11,"f":5,"t":0.189,"w":0.28},{"g":"m","s":11,"f":6,"t":0.231,"w":0.2},{"g":"m","s":11,"f":7,"t":0.273,"w":0.11},{"g":"m","s":11,"f":8,"t":0.315,"w":0.03},{"g":"m","s":11,"f":9,"t":0.357,"w":-0.05},{"g":"m","s":11,"f":10,"t":0.399,"w":-0.1},
{"g":"m","s":12,"f":1,"t":0.021,"w":0.39},{"g":"m","s":12,"f":2,"t":0.063,"w":0.35},{"g":"m","s":12,"f":3,"t":0.105,"w":0.31},{"g":"m","s":12,"f":4,"t":0.147,"w":0.27},{"g":"m","s":12,"f":5,"t":0.189,"w":0.22},{"g":"m","s":12,"f":6,"t":0.231,"w":0.17},{"g":"m","s":12,"f":7,"t":0.273,"w":0.12},{"g":"m","s":12,"f":8,"t":0.315,"w":0.07},{"g":"m","s":12,"f":9,"t":0.357,"w":0.02},{"g":"m","s":12,"f":10,"t":0.399,"w":-0.03},
{"g":"m","s":13,"f":1,"t":0.021,"w":0.3},{"g":"m","s":13,"f":2,"t":0.063,"w":0.3},{"g":"m","s":13,"f":3,"t":0.105,"w":0.3},{"g":"m","s":13,"f":4,"t":0.147,"w":0.3},{"g":"m","s":13,"f":5,"t":0.189,"w":0.29},{"g":"m","s":13,"f":6,"t":0.231,"w":0.27},{"g":"m","s":13,"f":7,"t":0.273,"w":0.24},{"g":"m","s":13,"f":8,"t":0.315,"w":0.19},{"g":"m","s":13,"f":9,"t":0.357,"w":0.12},{"g":"m","s":13,"f":10,"t":0.399,"w":0.05},
{"g":"m","s":14,"f":1,"t":0.021,"w":0.28},{"g":"m","s":14,"f":2,"t":0.063,"w":0.27},{"g":"m","s":14,"f":3,"t":0.105,"w":0.25},{"g":"m","s":14,"f":4,"t":0.147,"w":0.22},{"g":"m","s":14,"f":5,"t":0.189,"w":0.18},{"g":"m","s":14,"f":6,"t":0.231,"w":0.14},{"g":"m","s":14,"f":7,"t":0.273,"w":0.1},{"g":"m","s":14,"f":8,"t":0.315,"w":0.06},{"g":"m","s":14,"f":9,"t":0.357,"w":0.03},{"g":"m","s":14,"f":10,"t":0.399,"w":0.0},
{"g":"m","s":15,"f":1,"t":0.021,"w":0.26},{"g":"m","s":15,"f":2,"t":0.063,"w":0.24},{"g":"m","s":15,"f":3,"t":0.105,"w":0.22},{"g":"m","s":15,"f":4,"t":0.147,"w":0.2},{"g":"m","s":15,"f":5,"t":0.189,"w":0.18},{"g":"m","s":15,"f":6,"t":0.231,"w":0.16},{"g":"m","s":15,"f":7,"t":0.273,"w":0.13},{"g":"m","s":15,"f":8,"t":0.315,"w":0.1},{"g":"m","s":15,"f":9,"t":0.357,"w":0.08},{"g":"m","s":15,"f":10,"t":0.399,"w":0.07},
{"g":"m","s":16,"f":1,"t":0.021,"w":0.22},{"g":"m","s":16,"f":2,"t":0.063,"w":0.21},{"g":"m","s":16,"f":3,"t":0.105,"w":0.2},{"g":"m","s":16,"f":4,"t":0.147,"w":0.19},{"g":"m","s":16,"f":5,"t":0.189,"w":0.17},{"g":"m","s":16,"f":6,"t":0.231,"w":0.15},{"g":"m","s":16,"f":7,"t":0.273,"w":0.13},{"g":"m","s":16,"f":8,"t":0.315,"w":0.11},{"g":"m","s":16,"f":9,"t":0.357,"w":0.1},{"g":"m","s":16,"f":10,"t":0.399,"w":0.1},
{"g":"m","s":17,"f":1,"t":0.021,"w":0.18},{"g":"m","s":17,"f":2,"t":0.063,"w":0.17},{"g":"m","s":17,"f":3,"t":0.105,"w":0.16},{"g":"m","s":17,"f":4,"t":0.147,"w":0.15},{"g":"m","s":17,"f":5,"t":0.189,"w":0.13},{"g":"m","s":17,"f":6,"t":0.231,"w":0.1},{"g":"m","s":17,"f":7,"t":0.273,"w":0.07},{"g":"m","s":17,"f":8,"t":0.315,"w":0.03},{"g":"m","s":17,"f":9,"t":0.357,"w":-0.02},{"g":"m","s":17,"f":10,"t":0.399,"w":-0.06},
{"g":"m","s":18,"f":1,"t":0.021,"w":0.08},{"g":"m","s":18,"f":2,"t":0.063,"w":0.1},{"g":"m","s":18,"f":3,"t":0.105,"w":0.12},{"g":"m","s":18,"f":4,"t":0.147,"w":0.13},{"g":"m","s":18,"f":5,"t":0.189,"w":0.13},{"g":"m","s":18,"f":6,"t":0.231,"w":0.12},{"g":"m","s":18,"f":7,"t":0.273,"w":0.1},{"g":"m","s":18,"f":8,"t":0.315,"w":0.08},{"g":"m","s":18,"f":9,"t":0.357,"w":0.06},{"g":"m","s":18,"f":10,"t":0.399,"w":0.05},
{"g":"m","s":19,"f":1,"t":0.021,"w":0.14},{"g":"m","s":19,"f":2,"t":0.063,"w":0.14},{"g":"m","s":19,"f":3,"t":0.105,"w":0.13},{"g":"m","s":19,"f":4,"t":0.147,"w":0.13},{"g":"m","s":19,"f":5,"t":0.189,"w":0.11},{"g":"m","s":19,"f":6,"t":0.231,"w":0.09},{"g":"m","s":19,"f":7,"t":0.273,"w":0.05},{"g":"m","s":19,"f":8,"t":0.315,"w":0.01},{"g":"m","s":19,"f":9,"t":0.357,"w":-0.03},{"g":"m","s":19,"f":10,"t":0.399,"w":-0.08},
{"g":"m","s":20,"f":1,"t":0.021,"w":0.2},{"g":"m","s":20,"f":2,"t":0.063,"w":0.19},{"g":"m","s":20,"f":3,"t":0.105,"w":0.17},{"g":"m","s":20,"f":4,"t":0.147,"w":0.14},{"g":"m","s":20,"f":5,"t":0.189,"w":0.11},{"g":"m","s":20,"f":6,"t":0.231,"w":0.08},{"g":"m","s":20,"f":7,"t":0.273,"w":0.05},{"g":"m","s":20,"f":8,"t":0.315,"w":0.02},{"g":"m","s":20,"f":9,"t":0.357,"w":0.0},{"g":"m","s":20,"f":10,"t":0.399,"w":-0.02},
{"g":"b","s":21,"f":1,"t":0.008,"w":0.13},{"g":"b","s":21,"f":4,"t":0.058,"w":0.13},{"g":"b","s":21,"f":7,"t":0.108,"w":0.125},{"g":"b","s":21,"f":10,"t":0.158,"w":0.115},{"g":"b","s":21,"f":13,"t":0.208,"w":0.1},{"g":"b","s":21,"f":16,"t":0.257,"w":0.075},{"g":"b","s":21,"f":19,"t":0.307,"w":0.05},{"g":"b","s":21,"f":22,"t":0.357,"w":0.03},{"g":"b","s":21,"f":25,"t":0.407,"w":0.02},
{"g":"b","s":22,"f":1,"t":0.008,"w":0.11},{"g":"b","s":22,"f":4,"t":0.058,"w":0.12},{"g":"b","s":22,"f":7,"t":0.108,"w":0.11},{"g":"b","s":22,"f":10,"t":0.158,"w":0.09},{"g":"b","s":22,"f":13,"t":0.208,"w":0.07},{"g":"b","s":22,"f":16,"t":0.257,"w":0.06},{"g":"b","s":22,"f":19,"t":0.307,"w":0.055},{"g":"b","s":22,"f":22,"t":0.357,"w":0.04},{"g":"b","s":22,"f":25,"t":0.407,"w":0.02},
{"g":"b","s":23,"f":1,"t":0.008,"w":0.1},{"g":"b","s":23,"f":4,"t":0.058,"w":0.1},{"g":"b","s":23,"f":7,"t":0.108,"w":0.09},{"g":"b","s":23,"f":10,"t":0.158,"w":0.075},{"g":"b","s":23,"f":13,"t":0.208,"w":0.06},{"g":"b","s":23,"f":16,"t":0.257,"w":0.05},{"g":"b","s":23,"f":19,"t":0.307,"w":0.04},{"g":"b","s":23,"f":22,"t":0.357,"w":0.025},{"g":"b","s":23,"f":25,"t":0.407,"w":0.01},
{"g":"b","s":24,"f":1,"t":0.008,"w":0.04},{"g":"b","s":24,"f":4,"t":0.058,"w":0.06},{"g":"b","s":24,"f":7,"t":0.108,"w":0.065},{"g":"b","s":24,"f":10,"t":0.158,"w":0.06},{"g":"b","s":24,"f":13,"t":0.208,"w":0.05},{"g":"b","s":24,"f":16,"t":0.257,"w":0.06},{"g":"b","s":24,"f":19,"t":0.307,"w":0.06},{"g":"b","s":24,"f":22,"t":0.357,"w":0.04},{"g":"b","s":24,"f":25,"t":0.407,"w":0.01},
{"g":"b","s":25,"f":1,"t":0.008,"w":0.02},{"g":"b","s":25,"f":4,"t":0.058,"w":0.04},{"g":"b","s":25,"f":7,"t":0.108,"w":0.045},{"g":"b","s":25,"f":10,"t":0.158,"w":0.04},{"g":"b","s":25,"f":13,"t":0.208,"w":0.03},{"g":"b","s":25,"f":16,"t":0.257,"w":0.02},{"g":"b","s":25,"f":19,"t":0.307,"w":0.01},{"g":"b","s":25,"f":22,"t":0.357,"w":0.0},{"g":"b","s":25,"f":25,"t":0.407,"w":-0.01},
{"g":"b","s":26,"f":1,"t":0.008,"w":-0.02},{"g":"b","s":26,"f":4,"t":0.058,"w":0.01},{"g":"b","s":26,"f":7,"t":0.108,"w":0.03},{"g":"b","s":26,"f":10,"t":0.158,"w":0.035},{"g":"b","s":26,"f":13,"t":0.208,"w":0.03},{"g":"b","s":26,"f":16,"t":0.257,"w":0.025},{"g":"b","s":26,"f":19,"t":0.307,"w":0.02},{"g":"b","s":26,"f":22,"t":0.357,"w":0.01},{"g":"b","s":26,"f":25,"t":0.407,"w":-0.005},
{"g":"b","s":27,"f":1,"t":0.008,"w":-0.04},{"g":"b","s":27,"f":4,"t":0.058,"w":-0.01},{"g":"b","s":27,"f":7,"t":0.108,"w":0.01},{"g":"b","s":27,"f":10,"t":0.158,"w":0.02},{"g":"b","s":27,"f":13,"t":0.208,"w":0.02},{"g":"b","s":27,"f":16,"t":0.257,"w":0.01},{"g":"b","s":27,"f":19,"t":0.307,"w":0.0},{"g":"b","s":27,"f":22,"t":0.357,"w":-0.01},{"g":"b","s":27,"f":25,"t":0.407,"w":-0.03},
{"g":"b","s":28,"f":1,"t":0.008,"w":0.0},{"g":"b","s":28,"f":4,"t":0.058,"w":0.02},{"g":"b","s":28,"f":7,"t":0.108,"w":0.03},{"g":"b","s":28,"f":10,"t":0.158,"w":0.03},{"g":"b","s":28,"f":13,"t":0.208,"w":0.02},{"g":"b","s":28,"f":16,"t":0.257,"w":0.01},{"g":"b","s":28,"f":19,"t":0.307,"w":-0.005},{"g":"b","s":28,"f":22,"t":0.357,"w":-0.02},{"g":"b","s":28,"f":25,"t":0.407,"w":-0.04},
{"g":"b","s":29,"f":1,"t":0.008,"w":0.07},{"g":"b","s":29,"f":4,"t":0.058,"w":0.08},{"g":"b","s":29,"f":7,"t":0.108,"w":0.075},{"g":"b","s":29,"f":10,"t":0.158,"w":0.06},{"g":"b","s":29,"f":13,"t":0.208,"w":0.04},{"g":"b","s":29,"f":16,"t":0.257,"w":0.03},{"g":"b","s":29,"f":19,"t":0.307,"w":0.02},{"g":"b","s":29,"f":22,"t":0.357,"w":0.01},{"g":"b","s":29,"f":25,"t":0.407,"w":0.005},
{"g":"b","s":30,"f":1,"t":0.008,"w":0.05},{"g":"b","s":30,"f":4,"t":0.058,"w":0.0},{"g":"b","s":30,"f":7,"t":0.108,"w":-0.01},{"g":"b","s":30,"f":10,"t":0.158,"w":0.0},{"g":"b","s":30,"f":13,"t":0.208,"w":0.01},{"g":"b","s":30,"f":16,"t":0.257,"w":0.005},{"g":"b","s":30,"f":19,"t":0.307,"w":0.0},{"g":"b","s":30,"f":22,"t":0.357,"w":-0.01},{"g":"b","s":30,"f":25,"t":0.407,"w":-0.02}
],
"D":[
{"g":"b","s":0,"f":1,"t":0.008,"w":0.012},{"g":"b","s":0,"f":2,"t":0.025,"w":0.028},{"g":"b","s":0,"f":3,"t":0.042,"w":0.045},{"g":"b","s":0,"f":4,"t":0.058,"w":0.063},{"g":"b","s":0,"f":5,"t":0.075,"w":0.079},{"g":"b","s":0,"f":6,"t":0.091,"w":0.086},{"g":"b","s":0,"f":7,"t":0.108,"w":0.086},{"g":"b","s":0,"f":8,"t":0.125,"w":0.082},{"g":"b","s":0,"f":9,"t":0.141,"w":0.074},{"g":"b","s":0,"f":10,"t":0.158,"w":0.065},{"g":"b","s":0,"f":11,"t":0.174,"w":0.056},{"g":"b","s":0,"f":12,"t":0.191,"w":0.047},{"g":"b","s":0,"f":13,"t":0.208,"w":0.04},{"g":"b","s":0,"f":14,"t":0.224,"w":0.033},{"g":"b","s":0,"f":15,"t":0.241,"w":0.028},{"g":"b","s":0,"f":16,"t":0.257,"w":0.021},{"g":"b","s":0,"f":17,"t":0.274,"w":0.017},{"g":"b","s":0,"f":18,"t":0.291,"w":0.012},{"g":"b","s":0,"f":19,"t":0.307,"w":0.01},{"g":"b","s":0,"f":20,"t":0.324,"w":0.007},{"g":"b","s":0,"f":21,"t":0.34,"w":0.006},{"g":"b","s":0,"f":22,"t":0.357,"w":0.004},{"g":"b","s":0,"f":23,"t":0.374,"w":0.003},{"g":"b","s":0,"f":24,"t":0.39,"w":0.002},{"g":"b","s":0,"f":25,"t":0.407,"w":0.001},
{"g":"m","s":0,"f":1,"t":0.021,"w":0.228},{"g":"m","s":0,"f":2,"t":0.063,"w":0.316},{"g":"m","s":0,"f":3,"t":0.105,"w":0.27},{"g":"m","s":0,"f":4,"t":0.147,"w":0.184},{"g":"m","s":0,"f":5,"t":0.189,"w":0.115},{"g":"m","s":0,"f":6,"t":0.231,"w":0.06},{"g":"m","s":0,"f":7,"t":0.273,"w":0.035},{"g":"m","s":0,"f":8,"t":0.315,"w":0.018},{"g":"m","s":0,"f":9,"t":0.357,"w":0.009},{"g":"m","s":0,"f":10,"t":0.399,"w":0.004},
{"g":"r","s":0,"f":1,"t":0.042,"w":0.288},{"g":"r","s":0,"f":2,"t":0.125,"w":0.28},{"g":"r","s":0,"f":3,"t":0.208,"w":0.204},{"g":"r","s":0,"f":4,"t":0.291,"w":0.13},{"g":"r","s":0,"f":5,"t":0.374,"w":0.078},
{"g":"r","s":1,"f":1,"t":0.042,"w":0.7},{"g":"r","s":1,"f":2,"t":0.125,"w":0.08},{"g":"r","s":1,"f":3,"t":0.208,"w":0.02},{"g":"r","s":1,"f":4,"t":0.291,"w":0.0},{"g":"r","s":1,"f":5,"t":0.374,"w":0.0},
{"g":"r","s":2,"f":1,"t":0.042,"w":0.36},{"g":"r","s":2,"f":2,"t":0.125,"w":0.3},{"g":"r","s":2,"f":3,"t":0.208,"w":0.22},{"g":"r","s":2,"f":4,"t":0.291,"w":0.16},{"g":"r","s":2,"f":5,"t":0.374,"w":0.13},
{"g":"r","s":3,"f":1,"t":0.042,"w":0.22},{"g":"r","s":3,"f":2,"t":0.125,"w":0.22},{"g":"r","s":3,"f":3,"t":0.208,"w":0.2},{"g":"r","s":3,"f":4,"t":0.291,"w":0.18},{"g":"r","s":3,"f":5,"t":0.374,"w":0.16},
{"g":"r","s":4,"f":1,"t":0.042,"w":0.2},{"g":"r","s":4,"f":2,"t":0.125,"w":0.19},{"g":"r","s":4,"f":3,"t":0.208,"w":0.17},{"g":"r","s":4,"f":4,"t":0.291,"w":0.15},{"g":"r","s":4,"f":5,"t":0.374,"w":0.13},
{"g":"r","s":5,"f":1,"t":0.042,"w":0.18},{"g":"r","s":5,"f":2,"t":0.125,"w":0.16},{"g":"r","s":5,"f":3,"t":0.208,"w":0.15},{"g":"r","s":5,"f":4,"t":0.291,"w":0.13},{"g":"r","s":5,"f":5,"t":0.374,"w":0.12},
{"g":"r","s":6,"f":1,"t":0.042,"w":0.15},{"g":"r","s":6,"f":2,"t":0.125,"w":0.15},{"g":"r","s":6,"f":3,"t":0.208,"w":0.14},{"g":"r","s":6,"f":4,"t":0.291,"w":0.12},{"g":"r","s":6,"f":5,"t":0.374,"w":0.1},
{"g":"r","s":7,"f":1,"t":0.042,"w":0.1},{"g":"r","s":7,"f":2,"t":0.125,"w":0.12},{"g":"r","s":7,"f":3,"t":0.208,"w":0.13},{"g":"r","s":7,"f":4,"t":0.291,"w":0.12},{"g":"r","s":7,"f":5,"t":0.374,"w":0.11},
{"g":"r","s":8,"f":1,"t":0.042,"w":0.05},{"g":"r","s":8,"f":2,"t":0.125,"w":0.08},{"g":"r","s":8,"f":3,"t":0.208,"w":0.1},{"g":"r","s":8,"f":4,"t":0.291,"w":0.1},{"g":"r","s":8,"f":5,"t":0.374,"w":0.1},
{"g":"r","s":9,"f":1,"t":0.042,"w":0.25},{"g":"r","s":9,"f":2,"t":0.125,"w":0.28},{"g":"r","s":9,"f":3,"t":0.208,"w":0.18},{"g":"r","s":9,"f":4,"t":0.291,"w":0.1},{"g":"r","s":9,"f":5,"t":0.374,"w":0.02},
{"g":"r","s":10,"f":1,"t":0.042,"w":0.3},{"g":"r","s":10,"f":2,"t":0.125,"w":0.1},{"g":"r","s":10,"f":3,"t":0.208,"w":0.02},{"g":"r","s":10,"f":4,"t":0.291,"w":0.0},{"g":"r","s":10,"f":5,"t":0.374,"w":0.0},
{"g":"m","s":11,"f":1,"t":0.021,"w":0.52},{"g":"m","s":11,"f":2,"t":0.063,"w":0.47},{"g":"m","s":11,"f":3,"t":0.105,"w":0.38},{"g":"m","s":11,"f":4,"t":0.147,"w":0.27},{"g":"m","s":11,"f":5,"t":0.189,"w":0.17},{"g":"m","s":11,"f":6,"t":0.231,"w":0.1},{"g":"m","s":11,"f":7,"t":0.273,"w":0.06},{"g":"m","s":11,"f":8,"t":0.315,"w":0.04},{"g":"m","s":11,"f":9,"t":0.357,"w":0.03},{"g":"m","s":11,"f":10,"t":0.399,"w":0.02},
{"g":"m","s":12,"f":1,"t":0.021,"w":0.35},{"g":"m","s":12,"f":2,"t":0.063,"w":0.4},{"g":"m","s":12,"f":3,"t":0.105,"w":0.3},{"g":"m","s":12,"f":4,"t":0.147,"w":0.2},{"g":"m","s":12,"f":5,"t":0.189,"w":0.12},{"g":"m","s":12,"f":6,"t":0.231,"w":0.07},{"g":"m","s":12,"f":7,"t":0.273,"w":0.04},{"g":"m","s":12,"f":8,"t":0.315,"w":0.03},{"g":"m","s":12,"f":9,"t":0.357,"w":0.02},{"g":"m","s":12,"f":10,"t":0.399,"w":0.01},
{"g":"m","s":13,"f":1,"t":0.021,"w":0.25},{"g":"m","s":13,"f":2,"t":0.063,"w":0.3},{"g":"m","s":13,"f":3,"t":0.105,"w":0.35},{"g":"m","s":13,"f":4,"t":0.147,"w":0.38},{"g":"m","s":13,"f":5,"t":0.189,"w":0.33},{"g":"m","s":13,"f":6,"t":0.231,"w":0.22},{"g":"m","s":13,"f":7,"t":0.273,"w":0.13},{"g":"m","s":13,"f":8,"t":0.315,"w":0.09},{"g":"m","s":13,"f":9,"t":0.357,"w":0.09},{"g":"m","s":13,"f":10,"t":0.399,"w":0.085},
{"g":"m","s":14,"f":1,"t":0.021,"w":0.1},{"g":"m","s":14,"f":2,"t":0.063,"w":0.2},{"g":"m","s":14,"f":3,"t":0.105,"w":0.28},{"g":"m","s":14,"f":4,"t":0.147,"w":0.3},{"g":"m","s":14,"f":5,"t":0.189,"w":0.25},{"g":"m","s":14,"f":6,"t":0.231,"w":0.17},{"g":"m","s":14,"f":7,"t":0.273,"w":0.1},{"g":"m","s":14,"f":8,"t":0.315,"w":0.06},{"g":"m","s":14,"f":9,"t":0.357,"w":0.04},{"g":"m","s":14,"f":10,"t":0.399,"w":0.03},
{"g":"m","s":15,"f":1,"t":0.021,"w":0.15},{"g":"m","s":15,"f":2,"t":0.063,"w":0.22},{"g":"m","s":15,"f":3,"t":0.105,"w":0.23},{"g":"m","s":15,"f":4,"t":0.147,"w":0.2},{"g":"m","s":15,"f":5,"t":0.189,"w":0.15},{"g":"m","s":15,"f":6,"t":0.231,"w":0.1},{"g":"m","s":15,"f":7,"t":0.273,"w":0.06},{"g":"m","s":15,"f":8,"t":0.315,"w":0.04},{"g":"m","s":15,"f":9,"t":0.357,"w":0.02},{"g":"m","s":15,"f":10,"t":0.399,"w":0.01},
{"g":"m","s":16,"f":1,"t":0.021,"w":0.05},{"g":"m","s":16,"f":2,"t":0.063,"w":0.15},{"g":"m","s":16,"f":3,"t":0.105,"w":0.2},{"g":"m","s":16,"f":4,"t":0.147,"w":0.2},{"g":"m","s":16,"f":5,"t":0.189,"w":0.17},{"g":"m","s":16,"f":6,"t":0.231,"w":0.12},{"g":"m","s":16,"f":7,"t":0.273,"w":0.08},{"g":"m","s":16,"f":8,"t":0.315,"w":0.05},{"g":"m","s":16,"f":9,"t":0.357,"w":0.03},{"g":"m","s":16,"f":10,"t":0.399,"w":0.02},
{"g":"m","s":17,"f":1,"t":0.021,"w":0.2},{"g":"m","s":17,"f":2,"t":0.063,"w":0.23},{"g":"m","s":17,"f":3,"t":0.105,"w":0.2},{"g":"m","s":17,"f":4,"t":0.147,"w":0.15},{"g":"m","s":17,"f":5,"t":0.189,"w":0.1},{"g":"m","s":17,"f":6,"t":0.231,"w":0.06},{"g":"m","s":17,"f":7,"t":0.273,"w":0.04},{"g":"m","s":17,"f":8,"t":0.315,"w":0.02},{"g":"m","s":17,"f":9,"t":0.357,"w":0.01},{"g":"m","s":17,"f":10,"t":0.399,"w":0.0},
{"g":"m","s":18,"f":1,"t":0.021,"w":0.3},{"g":"m","s":18,"f":2,"t":0.063,"w":0.22},{"g":"m","s":18,"f":3,"t":0.105,"w":0.15},{"g":"m","s":18,"f":4,"t":0.147,"w":0.1},{"g":"m","s":18,"f":5,"t":0.189,"w":0.06},{"g":"m","s":18,"f":6,"t":0.231,"w":0.04},{"g":"m","s":18,"f":7,"t":0.273,"w":0.02},{"g":"m","s":18,"f":8,"t":0.315,"w":0.01},{"g":"m","s":18,"f":9,"t":0.357,"w":0.0},{"g":"m","s":18,"f":10,"t":0.399,"w":0.0},
{"g":"m","s":19,"f":1,"t":0.021,"w":0.08},{"g":"m","s":19,"f":2,"t":0.063,"w":0.12},{"g":"m","s":19,"f":3,"t":0.105,"w":0.14},{"g":"m","s":19,"f":4,"t":0.147,"w":0.14},{"g":"m","s":19,"f":5,"t":0.189,"w":0.12},{"g":"m","s":19,"f":6,"t":0.231,"w":0.1},{"g":"m","s":19,"f":7,"t":0.273,"w":0.08},{"g":"m","s":19,"f":8,"t":0.315,"w":0.06},{"g":"m","s":19,"f":9,"t":0.357,"w":0.05},{"g":"m","s":19,"f":10,"t":0.399,"w":0.05},
{"g":"m","s":20,"f":1,"t":0.021,"w":0.02},{"g":"m","s":20,"f":2,"t":0.063,"w":0.06},{"g":"m","s":20,"f":3,"t":0.105,"w":0.1},{"g":"m","s":20,"f":4,"t":0.147,"w":0.12},{"g":"m","s":20,"f":5,"t":0.189,"w":0.12},{"g":"m","s":20,"f":6,"t":0.231,"w":0.1},{"g":"m","s":20,"f":7,"t":0.273,"w":0.08},{"g":"m","s":20,"f":8,"t":0.315,"w":0.06},{"g":"m","s":20,"f":9,"t":0.357,"w":0.04},{"g":"m","s":20,"f":10,"t":0.399,"w":0.03},
{"g":"b","s":21,"f":1,"t":0.008,"w":0.02},{"g":"b","s":21,"f":4,"t":0.058,"w":0.1},{"g":"b","s":21,"f":7,"t":0.108,"w":0.15},{"g":"b","s":21,"f":10,"t":0.158,"w":0.14},{"g":"b","s":21,"f":13,"t":0.208,"w":0.1},{"g":"b","s":21,"f":16,"t":0.257,"w":0.06},{"g":"b","s":21,"f":19,"t":0.307,"w":0.03},{"g":"b","s":21,"f":22,"t":0.357,"w":0.015},{"g":"b","s":21,"f":25,"t":0.407,"w":0.005},
{"g":"b","s":22,"f":1,"t":0.008,"w":0.01},{"g":"b","s":22,"f":4,"t":0.058,"w":0.05},{"g":"b","s":22,"f":7,"t":0.108,"w":0.1},{"g":"b","s":22,"f":10,"t":0.158,"w":0.115},{"g":"b","s":22,"f":13,"t":0.208,"w":0.1},{"g":"b","s":22,"f":16,"t":0.257,"w":0.07},{"g":"b","s":22,"f":19,"t":0.307,"w":0.04},{"g":"b","s":22,"f":22,"t":0.357,"w":0.02},{"g":"b","s":22,"f":25,"t":0.407,"w":0.01},
{"g":"b","s":23,"f":1,"t":0.008,"w":0.08},{"g":"b","s":23,"f":4,"t":0.058,"w":0.13},{"g":"b","s":23,"f":7,"t":0.108,"w":0.11},{"g":"b","s":23,"f":10,"t":0.158,"w":0.07},{"g":"b","s":23,"f":13,"t":0.208,"w":0.04},{"g":"b","s":23,"f":16,"t":0.257,"w":0.02},{"g":"b","s":23,"f":19,"t":0.307,"w":0.01},{"g":"b","s":23,"f":22,"t":0.357,"w":0.005},{"g":"b","s":23,"f":25,"t":0.407,"w":0.0},
{"g":"b","s":24,"f":1,"t":0.008,"w":0.1},{"g":"b","s":24,"f":4,"t":0.058,"w":0.12},{"g":"b","s":24,"f":7,"t":0.108,"w":0.08},{"g":"b","s":24,"f":10,"t":0.158,"w":0.05},{"g":"b","s":24,"f":13,"t":0.208,"w":0.03},{"g":"b","s":24,"f":16,"t":0.257,"w":0.01},{"g":"b","s":24,"f":19,"t":0.307,"w":0.005},{"g":"b","s":24,"f":22,"t":0.357,"w":0.0},{"g":"b","s":24,"f":25,"t":0.407,"w":0.0},
{"g":"b","s":25,"f":1,"t":0.008,"w":0.03},{"g":"b","s":25,"f":4,"t":0.058,"w":0.07},{"g":"b","s":25,"f":7,"t":0.108,"w":0.07},{"g":"b","s":25,"f":10,"t":0.158,"w":0.05},{"g":"b","s":25,"f":13,"t":0.208,"w":0.03},{"g":"b","s":25,"f":16,"t":0.257,"w":0.02},{"g":"b","s":25,"f":19,"t":0.307,"w":0.01},{"g":"b","s":25,"f":22,"t":0.357,"w":0.0},{"g":"b","s":25,"f":25,"t":0.407,"w":0.0},
{"g":"b","s":26,"f":1,"t":0.008,"w":0.0},{"g":"b","s":26,"f":4,"t":0.058,"w":0.04},{"g":"b","s":26,"f":7,"t":0.108,"w":0.06},{"g":"b","s":26,"f":10,"t":0.158,"w":0.06},{"g":"b","s":26,"f":13,"t":0.208,"w":0.04},{"g":"b","s":26,"f":16,"t":0.257,"w":0.02},{"g":"b","s":26,"f":19,"t":0.307,"w":0.01},{"g":"b","s":26,"f":22,"t":0.357,"w":0.0},{"g":"b","s":26,"f":25,"t":0.407,"w":0.0},
{"g":"b","s":27,"f":1,"t":0.008,"w":0.0},{"g":"b","s":27,"f":4,"t":0.058,"w":0.02},{"g":"b","s":27,"f":7,"t":0.108,"w":0.04},{"g":"b","s":27,"f":10,"t":0.158,"w":0.05},{"g":"b","s":27,"f":13,"t":0.208,"w":0.04},{"g":"b","s":27,"f":16,"t":0.257,"w":0.03},{"g":"b","s":27,"f":19,"t":0.307,"w":0.015},{"g":"b","s":27,"f":22,"t":0.357,"w":0.005},{"g":"b","s":27,"f":25,"t":0.407,"w":0.0},
{"g":"b","s":28,"f":1,"t":0.008,"w":0.12},{"g":"b","s":28,"f":4,"t":0.058,"w":0.09},{"g":"b","s":28,"f":7,"t":0.108,"w":0.05},{"g":"b","s":28,"f":10,"t":0.158,"w":0.03},{"g":"b","s":28,"f":13,"t":0.208,"w":0.015},{"g":"b","s":28,"f":16,"t":0.257,"w":0.005},{"g":"b","s":28,"f":19,"t":0.307,"w":0.0},{"g":"b","s":28,"f":22,"t":0.357,"w":0.0},{"g":"b","s":28,"f":25,"t":0.407,"w":0.0},
{"g":"b","s":29,"f":1,"t":0.008,"w":0.0},{"g":"b","s":29,"f":4,"t":0.058,"w":0.03},{"g":"b","s":29,"f":7,"t":0.108,"w":0.03},{"g":"b","s":29,"f":10,"t":0.158,"w":0.02},{"g":"b","s":29,"f":13,"t":0.208,"w":0.01},{"g":"b","s":29,"f":16,"t":0.257,"w":0.005},{"g":"b","s":29,"f":19,"t":0.307,"w":0.0},{"g":"b","s":29,"f":22,"t":0.357,"w":0.0},{"g":"b","s":29,"f":25,"t":0.407,"w":0.0}
]
},
"concat":[
{
 "width":291,"height":235,
 "title":{"text":"A","dx":-52,"dy":30,"offset":5,"baseline":"alphabetic"},
 "data":{"name":"A"},
 "encoding":{
  "x":{"field":"f","type":"quantitative","scale":{"domain":[1,10],"range":[0,223],"nice":false,"zero":false},"axis":{"values":[1,5,10],"title":"Frames"}},
  "y":{"field":"w","type":"quantitative","scale":{"domain":[-0.048,0.6],"range":[235,0],"nice":false,"zero":false},"axis":{"values":[0,0.2,0.4,0.6],"format":"~g","title":"Weights"}},
  "color":{"field":"g","type":"nominal","scale":{"domain":["m","k","c"],"range":["#ff00ff","#000000","#00ffff"]},"legend":null}
 },
 "layer":[
  {"data":{"values":[{}]},"mark":{"type":"rule","strokeWidth":1,"color":"#262626"},"encoding":{"x":{"datum":1},"x2":{"datum":10},"y":{"datum":0},"color":{"value":"#262626"}}},
  {"transform":[{"filter":"datum.s>0"}],"mark":{"type":"line","strokeWidth":0.7,"clip":true},"encoding":{"detail":{"field":"s","type":"nominal"},"color":{"field":"g","type":"nominal","scale":{"domain":["m","k","c"],"range":["#ff00ff","#000000","#00ffff"]},"legend":{"orient":"none","legendX":77,"legendY":-9,"title":null,"padding":0,"symbolType":"M-3,0H3M-0.3,0A0.3,0.3,0,1,0,0.3,0A0.3,0.3,0,1,0,-0.3,0","symbolSize":196,"symbolStrokeWidth":4.5,"labelFont":"DejaVu Sans","labelFontSize":18,"labelColor":"#000000","labelOffset":14,"rowPadding":2,"labelExpr":"datum.label=='m'?'42ms frame':datum.label=='k'?'83ms frame':'166ms frame'","encode":{"symbols":{"update":{"strokeWidth":{"value":4.5},"opacity":{"value":1}}}}}}}},
  {"transform":[{"filter":"datum.s==0"}],"mark":{"type":"line","strokeWidth":4.5,"clip":true}},
  {"transform":[{"filter":"datum.s==0"}],"mark":{"type":"point","filled":true,"opacity":1,"shape":"circle","size":40}}
 ]
},
{
 "width":285.7,"height":235,
 "title":{"text":"B","dx":-53,"dy":30,"offset":5,"baseline":"alphabetic"},
 "data":{"name":"B"},
 "encoding":{
  "x":{"field":"f","type":"quantitative","scale":{"domain":[1,10],"range":[0,221],"nice":false,"zero":false},"axis":{"values":[1,5,10],"title":"Frames"}},
  "y":{"field":"w","type":"quantitative","scale":{"domain":[-0.048,0.6],"range":[235,0],"nice":false,"zero":false},"axis":{"values":[0,0.2,0.4,0.6],"format":"~g","title":"Weights"}},
  "color":{"field":"g","type":"nominal","scale":{"domain":["m","k","c"],"range":["#ff00ff","#000000","#00ffff"]},"legend":null}
 },
 "layer":[
  {"data":{"values":[{}]},"mark":{"type":"rule","strokeWidth":1,"color":"#262626"},"encoding":{"x":{"datum":1},"x2":{"datum":10},"y":{"datum":0},"color":{"value":"#262626"}}},
  {"transform":[{"filter":"datum.s>0"}],"mark":{"type":"line","strokeWidth":0.7,"clip":true},"encoding":{"detail":{"field":"s","type":"nominal"}}},
  {"transform":[{"filter":"datum.s==0"}],"mark":{"type":"line","strokeWidth":4.5,"clip":true}},
  {"transform":[{"filter":"datum.s==0"}],"mark":{"type":"point","filled":true,"opacity":1,"shape":"circle","size":40}}
 ]
},
{
 "width":298.3,"height":235,
 "title":{"text":"C","dx":-45,"dy":30,"offset":5,"baseline":"alphabetic"},
 "data":{"name":"C"},
 "encoding":{
  "x":{"field":"f","type":"quantitative","scale":{"domain":[1,25],"range":[10.6,229.3],"nice":false,"zero":false},"axis":{"values":[1,5,10,15,20,25],"title":"Frames"}},
  "y":{"field":"w","type":"quantitative","scale":{"domain":[-0.0486,0.6],"range":[235,2.6],"nice":false,"zero":false},"axis":{"values":[0,0.2,0.4,0.6],"format":"~g","title":"Weights","offset":-10.6}},
  "color":{"field":"g","type":"nominal","scale":{"domain":["r","m","b"],"range":["#ff0000","#ff00ff","#0000ff"]},"legend":null}
 },
 "layer":[
  {"data":{"values":[{}]},"mark":{"type":"rule","strokeWidth":1,"color":"#262626"},"encoding":{"x":{"datum":1},"x2":{"datum":25},"y":{"datum":0},"color":{"value":"#262626"}}},
  {"transform":[{"filter":"datum.s>0"}],"mark":{"type":"line","strokeWidth":0.7,"opacity":0.85,"clip":true,"interpolate":"monotone"},"encoding":{"detail":{"field":"s","type":"nominal"},"color":{"field":"g","type":"nominal","scale":{"domain":["r","m","b"],"range":["#ff0000","#ff00ff","#0000ff"]},"legend":{"orient":"none","legendX":95,"legendY":29,"title":null,"padding":0,"symbolType":"M-2,0H2M-0.3,0A0.3,0.3,0,1,0,0.3,0A0.3,0.3,0,1,0,-0.3,0","symbolSize":196,"symbolStrokeWidth":3,"labelFont":"DejaVu Sans","labelFontSize":20,"labelColor":"#000000","labelOffset":2,"rowPadding":6.5,"labelExpr":"datum.label=='r'?'5 frames':datum.label=='m'?'10 frames':'25 frames'","encode":{"symbols":{"update":{"strokeWidth":{"value":3},"opacity":{"value":1}}}}}}}},
  {"transform":[{"filter":"datum.s==0"}],"mark":{"type":"line","strokeWidth":3.5,"clip":true}},
  {"transform":[{"filter":"datum.s==0"}],"mark":{"type":"point","filled":true,"opacity":1,"shape":"cross","size":45}}
 ]
},
{
 "width":232,"height":235,
 "title":{"text":"D","dx":-53,"dy":30,"offset":5,"baseline":"alphabetic"},
 "data":{"name":"D"},
 "encoding":{
  "x":{"field":"f","type":"quantitative","scale":{"domain":[1,25],"range":[0,217.3],"nice":false,"zero":false},"axis":{"values":[1,5,10,15,20,25],"title":"Frames"}},
  "y":{"field":"w","type":"quantitative","scale":{"domain":[-0.0486,0.6],"range":[235,2.6],"nice":false,"zero":false},"axis":{"values":[0,0.2,0.4,0.6],"format":"~g","title":"Weights"}},
  "color":{"field":"g","type":"nominal","scale":{"domain":["r","m","b"],"range":["#ff0000","#ff00ff","#0000ff"]},"legend":null}
 },
 "layer":[
  {"data":{"values":[{}]},"mark":{"type":"rule","strokeWidth":1,"color":"#262626"},"encoding":{"x":{"datum":1},"x2":{"datum":25},"y":{"datum":0},"color":{"value":"#262626"}}},
  {"transform":[{"filter":"datum.s>0"}],"mark":{"type":"line","strokeWidth":0.7,"opacity":0.85,"clip":true,"interpolate":"monotone"},"encoding":{"detail":{"field":"s","type":"nominal"}}},
  {"transform":[{"filter":"datum.s==0"}],"mark":{"type":"line","strokeWidth":3.5,"clip":true}},
  {"transform":[{"filter":"datum.s==0"}],"mark":{"type":"point","filled":true,"opacity":1,"shape":"cross","size":45}}
 ]
},
{
 "width":291,"height":237.4,
 "title":{"text":"(secs)","orient":"bottom","anchor":"end","dx":-68,"dy":-17,"fontSize":13,"fontWeight":"normal","color":"#262626"},
 "data":{"name":"A"},
 "encoding":{
  "x":{"field":"t","type":"quantitative","scale":{"domain":[0,1.577],"range":[0,222.3],"nice":false,"zero":false},"axis":{"values":[0,0.5,1,1.5],"format":"~g","title":"Physical Time"}},
  "y":{"field":"w","type":"quantitative","scale":{"domain":[-0.049,0.6],"range":[237.4,0],"nice":false,"zero":false},"axis":{"values":[0,0.2,0.4,0.6],"format":"~g","title":"Weights"}},
  "color":{"field":"g","type":"nominal","scale":{"domain":["m","k","c"],"range":["#ff00ff","#000000","#00ffff"]},"legend":null}
 },
 "layer":[
  {"data":{"values":[{}]},"mark":{"type":"rule","strokeWidth":1,"color":"#262626"},"encoding":{"x":{"datum":0},"x2":{"datum":1.577},"y":{"datum":0},"color":{"value":"#262626"}}},
  {"transform":[{"filter":"datum.s>0"}],"mark":{"type":"line","strokeWidth":0.7,"clip":true},"encoding":{"detail":{"field":"s","type":"nominal"}}},
  {"transform":[{"filter":"datum.s==0"}],"mark":{"type":"line","strokeWidth":4.5,"clip":true}},
  {"transform":[{"filter":"datum.s==0"}],"mark":{"type":"point","filled":true,"opacity":1,"shape":"circle","size":40}}
 ]
},
{
 "width":285.7,"height":237.4,
 "title":{"text":"(secs)","orient":"bottom","anchor":"end","dx":-57,"dy":-17,"fontSize":13,"fontWeight":"normal","color":"#262626"},
 "data":{"name":"B"},
 "encoding":{
  "x":{"field":"t","type":"quantitative","scale":{"domain":[0,1.577],"range":[0,221.5],"nice":false,"zero":false},"axis":{"values":[0,0.5,1,1.5],"format":"~g","title":"Physical Time"}},
  "y":{"field":"w","type":"quantitative","scale":{"domain":[-0.049,0.6],"range":[237.4,0],"nice":false,"zero":false},"axis":{"values":[0,0.2,0.4,0.6],"format":"~g","title":"Weights"}},
  "color":{"field":"g","type":"nominal","scale":{"domain":["m","k","c"],"range":["#ff00ff","#000000","#00ffff"]},"legend":null}
 },
 "layer":[
  {"data":{"values":[{}]},"mark":{"type":"rule","strokeWidth":1,"color":"#262626"},"encoding":{"x":{"datum":0},"x2":{"datum":1.577},"y":{"datum":0},"color":{"value":"#262626"}}},
  {"transform":[{"filter":"datum.s>0"}],"mark":{"type":"line","strokeWidth":0.7,"clip":true},"encoding":{"detail":{"field":"s","type":"nominal"}}},
  {"transform":[{"filter":"datum.s==0"}],"mark":{"type":"line","strokeWidth":4.5,"clip":true}},
  {"transform":[{"filter":"datum.s==0"}],"mark":{"type":"point","filled":true,"opacity":1,"shape":"circle","size":40}}
 ]
},
{
 "width":298.3,"height":237.4,
 "title":{"text":"(secs)","orient":"bottom","anchor":"end","dx":-60,"dy":-17,"fontSize":13,"fontWeight":"normal","color":"#262626"},
 "data":{"name":"C"},
 "encoding":{
  "x":{"field":"t","type":"quantitative","scale":{"domain":[0,0.407],"range":[0,230.6],"nice":false,"zero":false},"axis":{"values":[0,0.2,0.4],"format":"~g","title":"Physical Time","offset":-1.7}},
  "y":{"field":"w","type":"quantitative","scale":{"domain":[-0.05,0.6],"range":[235.7,-10],"nice":false,"zero":false},"axis":{"values":[0,0.2,0.4,0.6],"format":"~g","title":"Weights"}},
  "color":{"field":"g","type":"nominal","scale":{"domain":["r","m","b"],"range":["#ff0000","#ff00ff","#0000ff"]},"legend":null}
 },
 "layer":[
  {"data":{"values":[{}]},"mark":{"type":"rule","strokeWidth":1,"color":"#262626"},"encoding":{"x":{"datum":0},"x2":{"datum":0.407},"y":{"datum":0},"color":{"value":"#262626"}}},
  {"transform":[{"filter":"datum.s>0"}],"mark":{"type":"line","strokeWidth":0.7,"opacity":0.85,"clip":true,"interpolate":"monotone"},"encoding":{"detail":{"field":"s","type":"nominal"}}},
  {"transform":[{"filter":"datum.s==0"}],"mark":{"type":"line","strokeWidth":3.5,"clip":true}},
  {"transform":[{"filter":"datum.s==0"}],"mark":{"type":"point","filled":true,"opacity":1,"shape":"cross","size":45}}
 ]
},
{
 "width":232,"height":237.4,
 "title":{"text":"(secs)","orient":"bottom","anchor":"end","dx":-1,"dy":-17,"fontSize":13,"fontWeight":"normal","color":"#262626"},
 "data":{"name":"D"},
 "encoding":{
  "x":{"field":"t","type":"quantitative","scale":{"domain":[0,0.407],"range":[1.7,231.2],"nice":false,"zero":false},"axis":{"values":[0,0.2,0.4],"format":"~g","title":"Physical Time","offset":-1.7}},
  "y":{"field":"w","type":"quantitative","scale":{"domain":[-0.05,0.6],"range":[235.7,-10],"nice":false,"zero":false},"axis":{"values":[0,0.2,0.4,0.6],"format":"~g","title":"Weights","offset":-1.7}},
  "color":{"field":"g","type":"nominal","scale":{"domain":["r","m","b"],"range":["#ff0000","#ff00ff","#0000ff"]},"legend":null}
 },
 "layer":[
  {"data":{"values":[{}]},"mark":{"type":"rule","strokeWidth":1,"color":"#262626"},"encoding":{"x":{"datum":0},"x2":{"datum":0.407},"y":{"datum":0},"color":{"value":"#262626"}}},
  {"transform":[{"filter":"datum.s>0"}],"mark":{"type":"line","strokeWidth":0.7,"opacity":0.85,"clip":true,"interpolate":"monotone"},"encoding":{"detail":{"field":"s","type":"nominal"}}},
  {"transform":[{"filter":"datum.s==0"}],"mark":{"type":"line","strokeWidth":3.5,"clip":true}},
  {"transform":[{"filter":"datum.s==0"}],"mark":{"type":"point","filled":true,"opacity":1,"shape":"cross","size":45}}
 ]
}
],
"columns":4,
"spacing":{"row":92.3,"column":0},
"bounds":"flush",
"resolve":{"scale":{"color":"independent"},"legend":{"color":"independent"}}
}
